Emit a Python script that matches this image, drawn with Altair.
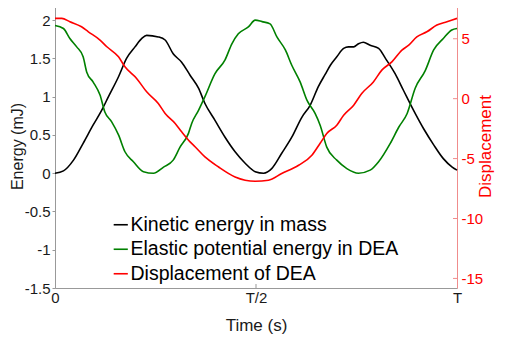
import altair as alt
import pandas as pd

# ---- data (t as fraction of period T) ----
kin_t = [0, 0.021, 0.046, 0.070, 0.095, 0.116, 0.133, 0.158, 0.178, 0.199, 0.216, 0.228,
         0.257, 0.274, 0.294, 0.315, 0.336, 0.357, 0.373, 0.398, 0.423, 0.448, 0.473, 0.498,
         0.519, 0.539, 0.564, 0.589, 0.614, 0.635, 0.655, 0.672, 0.685, 0.701, 0.718, 0.730,
         0.743, 0.755, 0.767, 0.784, 0.805, 0.822, 0.846, 0.867, 0.892, 0.917, 0.942, 0.966,
         0.988, 1.0]
kin_v = [0, 0.03, 0.17, 0.39, 0.63, 0.82, 1.0, 1.26, 1.50, 1.65, 1.76, 1.80,
         1.78, 1.74, 1.56, 1.45, 1.28, 1.11, 0.91, 0.69, 0.47, 0.28, 0.13, 0.02,
         0.0, 0.06, 0.26, 0.47, 0.73, 0.89, 1.13, 1.29, 1.41, 1.52, 1.63, 1.65,
         1.65, 1.69, 1.71, 1.67, 1.63, 1.50, 1.30, 1.08, 0.82, 0.58, 0.37, 0.19,
         0.08, 0.04]

ela_t = [0, 0.021, 0.037, 0.054, 0.070, 0.079, 0.095, 0.112, 0.124, 0.141, 0.158, 0.174,
         0.195, 0.220, 0.245, 0.270, 0.294, 0.311, 0.332, 0.340, 0.357, 0.373, 0.398, 0.423,
         0.440, 0.456, 0.481, 0.498, 0.515, 0.535, 0.552, 0.573, 0.589, 0.610, 0.627, 0.647,
         0.660, 0.676, 0.701, 0.726, 0.755, 0.784, 0.805, 0.834, 0.855, 0.876, 0.896, 0.921,
         0.942, 0.966, 0.987, 1.0]
ela_v = [1.93, 1.89, 1.76, 1.65, 1.52, 1.32, 1.19, 1.02, 0.80, 0.67, 0.50, 0.28,
         0.15, 0.02, 0.0, 0.08, 0.17, 0.34, 0.52, 0.65, 0.82, 1.0, 1.30, 1.48,
         1.69, 1.82, 1.91, 2.0, 1.98, 1.95, 1.78, 1.61, 1.41, 1.19, 0.95, 0.78,
         0.62, 0.34, 0.17, 0.06, 0.0, 0.04, 0.15, 0.39, 0.60, 0.78, 1.11, 1.34,
         1.61, 1.76, 1.87, 1.89]

dis_t = [0, 0.017, 0.037, 0.066, 0.083, 0.112, 0.129, 0.158, 0.174, 0.203, 0.228, 0.257,
         0.274, 0.299, 0.315, 0.336, 0.349, 0.373, 0.407, 0.448, 0.498, 0.531, 0.564, 0.606,
         0.639, 0.660, 0.676, 0.701, 0.718, 0.743, 0.763, 0.792, 0.813, 0.838, 0.863, 0.880,
         0.900, 0.925, 0.950, 0.975, 1.0]
dis_v = [6.70, 6.70, 6.42, 6.0, 5.58, 4.89, 4.33, 3.49, 2.66, 1.69, 0.57, -0.40,
         -1.24, -2.07, -2.77, -3.61, -4.03, -4.86, -5.70, -6.53, -6.89, -6.81, -6.25, -5.56,
         -4.72, -3.7, -2.91, -2.21, -1.38, -0.54, 0.43, 1.40, 2.38, 3.07, 4.05, 4.47,
         5.16, 5.58, 6.14, 6.42, 6.70]

series = ["Kinetic energy in mass", "Elastic potential energy in DEA", "Displacement of DEA"]
colors = ["#000000", "#008000", "#ff0000"]

x_ticks = [0, 0.5, 1]
x_labels = ["0", "T/2", "T"]
left_ticks = [-1.5, -1, -0.5, 0, 0.5, 1, 1.5, 2]
right_ticks = [-15, -10, -5, 0, 5]

W, H = 402, 284
FONT = "Liberation Sans"
GREY = "#999999"
PINK = "#f08c8c"

energy = pd.DataFrame(
    [{"t": t, "v": v, "s": series[0], "o": i} for i, (t, v) in enumerate(zip(kin_t, kin_v))]
    + [{"t": t, "v": v, "s": series[1], "o": i} for i, (t, v) in enumerate(zip(ela_t, ela_v))]
)
disp = pd.DataFrame({"t": dis_t, "v": dis_v, "s": series[2], "o": list(range(len(dis_t)))})
xt = pd.DataFrame({"t": [x_ticks[1]]})
rt = pd.DataFrame({"v": right_ticks})

label_expr = ("datum.value == %s ? '%s' : (datum.value == %s ? '%s' : '%s')"
              % (x_ticks[0], x_labels[0], x_ticks[1], x_labels[1], x_labels[2]))

xscale = alt.Scale(domain=[0, 1], nice=False, zero=False)
color = alt.Color("s:N", scale=alt.Scale(domain=series, range=colors),
                  legend=alt.Legend(title=None, orient="none", legendX=56, legendY=211,
                                    symbolType="stroke", symbolSize=200, symbolStrokeWidth=1.6,
                                    labelFontSize=19.5, labelFont=FONT, labelLimit=400,
                                    labelColor="#000000",
                                    rowPadding=3.5, padding=0, labelOffset=0, symbolOffset=0))

x_axis = alt.Axis(values=x_ticks, labelExpr=label_expr, title="Time (s)", grid=False,
                  domainColor=GREY, tickSize=0, labelFontSize=15, labelFont=FONT,
                  labelColor="#1a1a1a", labelPadding=2, labelFlush=False,
                  titleFontSize=17, titleFont=FONT,
                  titleFontWeight="normal", titleColor="#1a1a1a", titlePadding=12)

left = alt.Chart(energy).mark_line(strokeWidth=1.6, interpolate="monotone").encode(
    x=alt.X("t:Q", scale=xscale, axis=x_axis),
    y=alt.Y("v:Q", scale=alt.Scale(domain=[-1.5, 2.21], nice=False, zero=False),
            axis=alt.Axis(values=left_ticks, labelExpr="'' + datum.value",
                          title="Energy (mJ)", grid=False, orient="left",
                          domainColor=GREY, tickColor=GREY, tickSize=3,
                          labelFontSize=15, labelFont=FONT, labelColor="#1a1a1a", labelPadding=2,
                          titleFontSize=16, titleFont=FONT, titleFontWeight="normal",
                          titleColor="#1a1a1a", titlePadding=-1)),
    color=color,
    order="o:Q",
)

top_tick = alt.Chart(xt).mark_rule(color=GREY).encode(
    x=alt.X("t:Q", scale=xscale),
    y=alt.value(0), y2=alt.value(4),
)
bottom_tick = alt.Chart(xt).mark_rule(color=GREY).encode(
    x=alt.X("t:Q", scale=xscale),
    y=alt.value(H), y2=alt.value(H - 4),
)

rscale = alt.Scale(domain=[-15.8, 7.9], nice=False, zero=False)
right_line = alt.Chart(disp).mark_line(strokeWidth=1.6, interpolate="monotone").encode(
    x=alt.X("t:Q", scale=xscale),
    y=alt.Y("v:Q", scale=rscale,
            axis=alt.Axis(values=right_ticks, labelExpr="'' + datum.value",
                          title="Displacement", orient="right", grid=False,
                          domainColor=PINK, tickSize=0, labelFontSize=15, labelFont=FONT,
                          labelColor="#ff0000", labelPadding=4, titleFontSize=17, titleFont=FONT,
                          titleFontWeight="normal", titleColor="#ff0000", titleAngle=270,
                          titlePadding=12)),
    color=color,
    order="o:Q",
)
right_ticks_layer = alt.Chart(rt).mark_rule(color=PINK).encode(
    y=alt.Y("v:Q", scale=rscale),
    x=alt.value(W - 4), x2=alt.value(W),
)

left_layer = alt.layer(left, top_tick, bottom_tick)
right_layer = alt.layer(right_line, right_ticks_layer)

chart = alt.layer(left_layer, right_layer).resolve_scale(y="independent").properties(
    width=W, height=H,
    autosize=alt.AutoSizeParams(type="none"),
    padding={"left": 47, "top": -4, "right": 45, "bottom": 48},
).configure_view(stroke=GREY).configure(background="white")

chart.save("out.html", embed_options={"renderer": "svg", "actions": False})
